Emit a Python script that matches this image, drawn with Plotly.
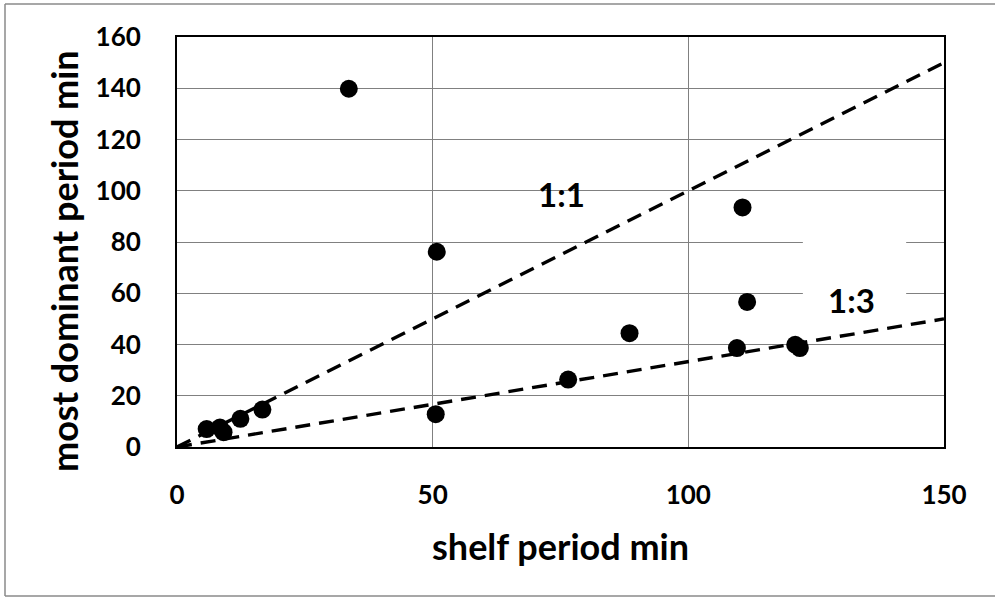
import plotly.graph_objects as go

shelf_period = [33.6, 50.8, 50.6, 5.8, 8.4, 9.1, 12.4, 16.7, 76.5, 88.5, 109.5, 110.6, 111.5, 120.9, 121.8]
dominant_period = [139.8, 76.2, 12.8, 7.0, 7.6, 5.8, 11.0, 14.6, 26.3, 44.4, 38.6, 93.5, 56.6, 39.9, 38.6]

ref_x = [0, 150]
ratio_11 = [0, 150]
ratio_13 = [0, 50]

x_ticks = [0, 50, 100, 150]
y_ticks = [0, 20, 40, 60, 80, 100, 120, 140, 160]

FONT = "Lato"
W, H = 995, 597
L, R, T, B = 177, 51, 37, 150
PW, PH = W - L - R, H - T - B


def px_x(p):
    return (p - L) / PW


def px_y(p):
    return (H - B - p) / PH


fig = go.Figure()
fig.add_trace(go.Scatter(x=ref_x, y=ratio_11, mode="lines",
                         line=dict(color="black", width=3.4, dash="15px,9px"),
                         showlegend=False, hoverinfo="skip"))
fig.add_trace(go.Scatter(x=ref_x, y=ratio_13, mode="lines",
                         line=dict(color="black", width=3.4, dash="15px,9px"),
                         showlegend=False, hoverinfo="skip"))
fig.add_trace(go.Scatter(x=shelf_period, y=dominant_period, mode="markers",
                         marker=dict(color="black", size=18),
                         showlegend=False))

fig.add_annotation(x=75.1, y=98.7, text="<b>1:1</b>", showarrow=False,
                   font=dict(family=FONT, size=33, color="black"))
fig.add_annotation(x=131.9, y=57.2, text="<b>1:3</b>", showarrow=False,
                   font=dict(family=FONT, size=33, color="black"))

# y axis title placed as rotated text
fig.add_annotation(xref="paper", yref="paper", x=px_x(64), y=px_y(261),
                   text="<b>most dominant period min</b>", textangle=-90, showarrow=False,
                   xanchor="center", yanchor="middle",
                   font=dict(family=FONT, size=36, color="black"))

# white box behind the 1:3 label (hides gridlines)
fig.add_shape(type="rect", xref="x", yref="y", x0=122.4, x1=142.6, y0=46, y1=94,
              fillcolor="white", line=dict(width=0), layer="between")

# outer frame (left, top, bottom edges visible)
frame = dict(color="#8a8a8a", width=1.5)
fig.add_shape(type="line", xref="paper", yref="paper", x0=px_x(5), x1=px_x(5), y0=px_y(4), y1=px_y(596), line=frame)
fig.add_shape(type="line", xref="paper", yref="paper", x0=px_x(5), x1=px_x(1000), y0=px_y(4), y1=px_y(4), line=frame)
fig.add_shape(type="line", xref="paper", yref="paper", x0=px_x(5), x1=px_x(1000), y0=px_y(596), y1=px_y(596), line=frame)

fig.update_xaxes(range=[0, 150], tickvals=x_ticks, showgrid=True, gridcolor="#808080", gridwidth=1.3,
                 zeroline=False, showline=True, linecolor="black", linewidth=2, mirror=True,
                 ticks="outside", ticklen=0, ticklabelstandoff=24,
                 tickfont=dict(family=FONT, size=26, color="black", weight="bold"),
                 title=dict(text="shelf period min", standoff=26,
                            font=dict(family=FONT, size=36, color="black", weight="bold")))
fig.update_yaxes(range=[0, 160], tickvals=y_ticks, showgrid=True, gridcolor="#808080", gridwidth=1.3,
                 zeroline=False, showline=True, linecolor="black", linewidth=2, mirror=True,
                 ticks="outside", ticklen=0, ticklabelstandoff=29,
                 tickfont=dict(family=FONT, size=26, color="black", weight="bold"))

fig.update_layout(width=W, height=H, margin=dict(l=L, r=R, t=T, b=B),
                  plot_bgcolor="white", paper_bgcolor="white")

fig.write_html("out.html")
